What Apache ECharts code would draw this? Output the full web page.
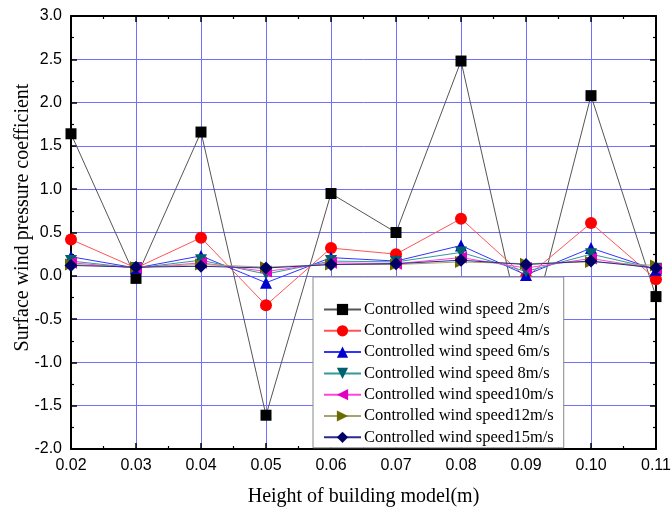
<!DOCTYPE html>
<html>
<head>
<meta charset="utf-8">
<script src="https://cdn.jsdelivr.net/npm/echarts@6/dist/echarts.min.js"></script>
<style>html,body{margin:0;padding:0;background:#fff}#c{width:672px;height:513px}</style>
</head>
<body>
<div id="c"></div>
<script>
const heights = [0.02, 0.03, 0.04, 0.05, 0.06, 0.07, 0.08, 0.09, 0.10, 0.11];
const speed2  = [1.64, -0.03, 1.66, -1.61, 0.95, 0.50, 2.48, -0.85, 2.08, -0.24];
const speed4  = [0.42, 0.09, 0.44, -0.34, 0.32, 0.25, 0.66, -0.02, 0.61, -0.04];
const speed6  = [0.22, 0.09, 0.23, -0.08, 0.21, 0.17, 0.35, 0.01, 0.32, 0.07];
const speed8  = [0.17, 0.09, 0.18, 0.02, 0.17, 0.16, 0.27, 0.05, 0.25, 0.08];
const speed10 = [0.15, 0.09, 0.15, 0.05, 0.15, 0.14, 0.21, 0.09, 0.20, 0.08];
const speed12 = [0.13, 0.10, 0.13, 0.10, 0.13, 0.13, 0.16, 0.14, 0.16, 0.12];
const speed15 = [0.12, 0.10, 0.11, 0.09, 0.13, 0.14, 0.18, 0.13, 0.17, 0.09];
const seriesNames = [
  'Controlled wind speed 2m/s', 'Controlled wind speed 4m/s', 'Controlled wind speed 6m/s',
  'Controlled wind speed 8m/s', 'Controlled wind speed10m/s', 'Controlled wind speed12m/s',
  'Controlled wind speed15m/s'
];
const seriesValues = [speed2, speed4, speed6, speed8, speed10, speed12, speed15];

const styles = [
  {symbol: 'rect', rot: 0, size: 11, c: '#000000', lc: '#555555'},
  {symbol: 'circle', rot: 0, size: 12, c: '#ff0000', lc: '#ff5555'},
  {symbol: 'triangle', rot: 0, size: 12, c: '#0000cc', lc: '#3333ff'},
  {symbol: 'triangle', rot: 180, size: 12, c: '#006070', lc: '#339999'},
  {symbol: 'triangle', rot: 90, size: 12, c: '#e000c0', lc: '#ff44dd'},
  {symbol: 'triangle', rot: -90, size: 12, c: '#6b6b00', lc: '#a8a070'},
  {symbol: 'diamond', rot: 0, size: 13, c: '#000066', lc: '#2a2a90'}
];

const chart = echarts.init(document.getElementById('c'), null, {renderer: 'canvas'});
const grid = {left: 71, right: 16, top: 16, bottom: 64, containLabel: false, outerBoundsMode: 'none'};
const axisLine = {show: true, onZero: false, lineStyle: {color: '#000', width: 2}};
const tickIn = {show: true, inside: true, length: 6, lineStyle: {color: '#000', width: 1.5}};
const minorIn = {show: true, splitNumber: 2, length: 3, lineStyle: {color: '#000', width: 1.2}};

chart.setOption({
  animation: false,
  backgroundColor: '#fff',
  grid: grid,
  legend: {
    orient: 'vertical',
    left: 313, top: 277,
    padding: [24, 10, 2, 10],
    itemGap: 4.3,
    itemWidth: 37, itemHeight: 14,
    backgroundColor: '#fff',
    borderColor: '#888',
    borderWidth: 1,
    textStyle: {fontFamily: 'Liberation Serif', fontSize: 16.5, color: '#000', padding: [0, 0, 0, -2]},
    data: seriesNames
  },
  xAxis: [{
    type: 'value', min: 0.02, max: 0.11, interval: 0.01,
    name: 'Height of building model(m)', nameLocation: 'middle', nameGap: 38,
    nameMoveOverlap: false,
    nameTextStyle: {fontFamily: 'Liberation Serif', fontSize: 20, color: '#000'},
    axisLine: axisLine, axisTick: tickIn, minorTick: minorIn,
    axisLabel: {fontFamily: 'Liberation Sans', fontSize: 16, color: '#000', margin: 9,
      formatter: v => v.toFixed(2)},
    splitLine: {show: true, lineStyle: {color: '#7070ff', width: 1}}
  }, {
    type: 'value', min: 0.02, max: 0.11, interval: 0.01, position: 'top',
    axisLine: axisLine, axisTick: tickIn, minorTick: minorIn,
    axisLabel: {show: false}, splitLine: {show: false}
  }],
  yAxis: [{
    type: 'value', min: -2, max: 3, interval: 0.5,
    name: 'Surface wind pressure coefficient', nameLocation: 'middle', nameGap: 38,
    nameMoveOverlap: false,
    nameTextStyle: {fontFamily: 'Liberation Serif', fontSize: 20, color: '#000', padding: [0, 0, 0, 30]},
    axisLine: axisLine, axisTick: tickIn, minorTick: minorIn,
    axisLabel: {fontFamily: 'Liberation Sans', fontSize: 16, color: '#000', margin: 9,
      formatter: v => v.toFixed(1)},
    splitLine: {show: true, lineStyle: {color: '#7070ff', width: 1}}
  }, {
    type: 'value', min: -2, max: 3, interval: 0.5, position: 'right',
    axisLine: axisLine, axisTick: tickIn, minorTick: minorIn,
    axisLabel: {show: false}, splitLine: {show: false}
  }],
  series: seriesNames.map((name, i) => ({
    name: name,
    type: 'line',
    xAxisIndex: 0, yAxisIndex: 0,
    data: heights.map((h, j) => [h, seriesValues[i][j]]),
    symbol: styles[i].symbol,
    symbolRotate: styles[i].rot,
    symbolSize: styles[i].size,
    showAllSymbol: true,
    clip: false,
    itemStyle: {color: styles[i].c, borderWidth: 0},
    lineStyle: {color: styles[i].lc, width: 1},
    z: 2 + i
  }))
});
</script>
</body>
</html>
